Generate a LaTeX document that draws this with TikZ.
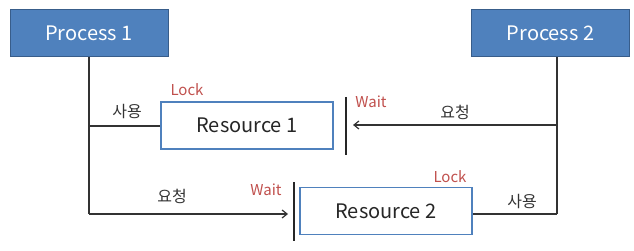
\documentclass[tikz,border=0pt]{standalone}
\usepackage{fontspec}
\setmainfont{Noto Sans CJK KR}
\usetikzlibrary{arrows.meta}
\definecolor{procfill}{HTML}{4F81BD}
\definecolor{procdraw}{HTML}{385D8A}
\definecolor{resdraw}{HTML}{4F81BD}
\definecolor{lockred}{HTML}{C0504D}
\tikzset{
  procbox/.style={draw=procdraw, line width=1pt, fill=procfill, text=white, minimum width=158pt, minimum height=47pt, inner sep=0pt, font=\fontsize{20}{24}\selectfont},
  resbox/.style={draw=resdraw, line width=1.2pt, fill=white, text=black!85, minimum height=47pt, inner sep=0pt, font=\fontsize{20}{24}\selectfont},
  wire/.style={line width=1.2pt, draw=black!80},
  bar/.style={line width=1.5pt, draw=black!85},
  redlbl/.style={text=lockred, font=\fontsize{15}{18}\selectfont, inner sep=0pt},
  blklbl/.style={text=black!80, font=\fontsize{16}{19}\selectfont, inner sep=0pt},
  arr/.style={wire, -{Straight Barb[length=5pt,width=8pt]}}
}
\begin{document}
\begin{tikzpicture}[x=1pt,y=-1pt]
\useasboundingbox (0,0) rectangle (634,251);
\node[procbox] (p1) at (89,33.5) {Process 1};
\node[procbox] (p2) at (550.5,33.5) {Process 2};
\node[resbox, minimum width=172pt] (r1) at (247,125.5) {Resource 1};
\node[resbox, minimum width=172pt] (r2) at (386,211) {Resource 2};
% wait bars
\coordinate (w1t) at (346,97);
\coordinate (w1b) at (346,155);
\coordinate (w2t) at (294,182);
\coordinate (w2b) at (294,241);
\draw[bar] (w1t) -- (w1b);
\draw[bar] (w2t) -- (w2b);
% Process 1 connections
\coordinate (c1a) at (89,126);
\coordinate (c1b) at (89,214);
\coordinate (a1e) at (288,214);
\draw[wire] (p1.south -| c1a) -- (c1b);
\draw[wire] (c1a) -- (r1.west |- c1a);
\draw[arr] (c1b) -- (a1e);
% Process 2 connections
\coordinate (c2a) at (557,125);
\coordinate (c2b) at (557,214);
\coordinate (a2e) at (353,125);
\draw[wire] (p2.south -| c2a) -- (c2b);
\draw[arr] (c2a) -- (a2e);
\draw[wire] (c2b) -- (r2.east |- c2b);
% labels
\node[redlbl] (lock1) at (187,90) {Lock};
\node[blklbl] (use1) at (127,112) {사용};
\node[redlbl] (wait1) at (371,102) {Wait};
\node[blklbl] (req2) at (455,112) {요청};
\node[blklbl] (req1) at (172,196) {요청};
\node[redlbl] (wait2) at (266,190) {Wait};
\node[redlbl] (lock2) at (450,177) {Lock};
\node[blklbl] (use2) at (522,202) {사용};
\end{tikzpicture}
\end{document}
